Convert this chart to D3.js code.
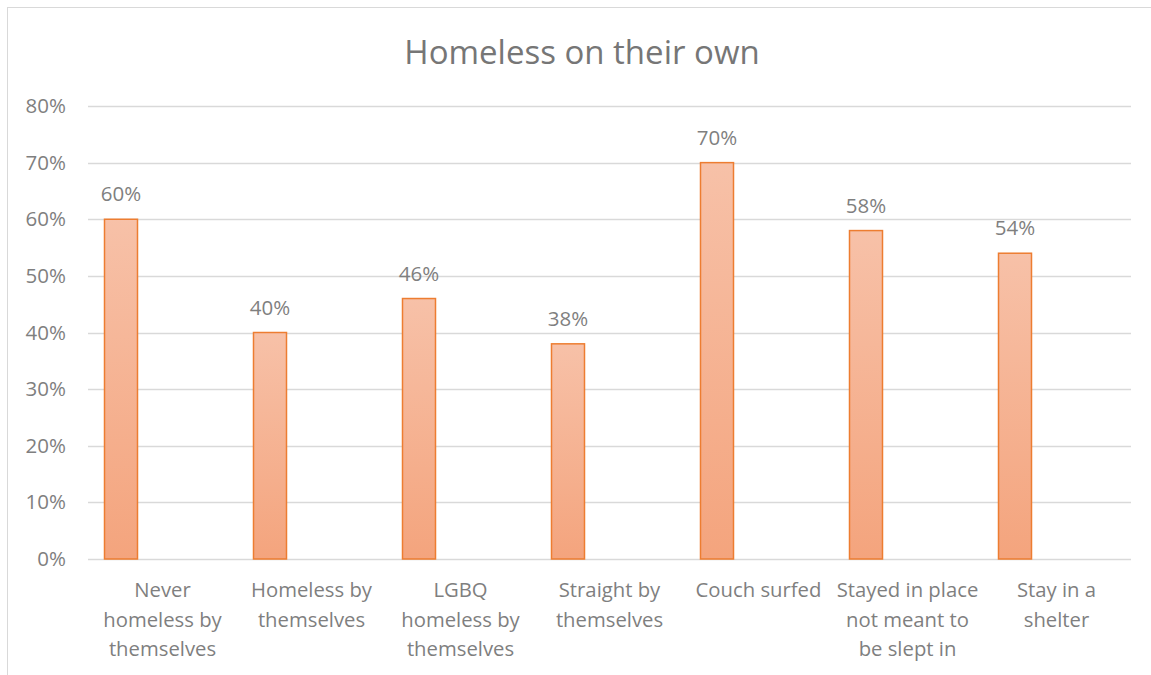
<!DOCTYPE html>
<html><head><meta charset="utf-8">
<script src="https://cdn.jsdelivr.net/npm/d3@7"></script>
<style>body{margin:0;background:#fff;} svg{display:block;}</style>
</head><body>
<svg id="c" width="1151" height="675"></svg>
<script>
const categories = ["Never homeless by themselves","Homeless by themselves","LGBQ homeless by themselves","Straight by themselves","Couch surfed","Stayed in place not meant to be slept in","Stay in a shelter"];
const categoryLines = [["Never","homeless by","themselves"],["Homeless by","themselves"],["LGBQ","homeless by","themselves"],["Straight by","themselves"],["Couch surfed"],["Stayed in place","not meant to","be slept in"],["Stay in a","shelter"]];
const values = [0.60,0.40,0.46,0.38,0.70,0.58,0.54];
const yTicks = [0,0.1,0.2,0.3,0.4,0.5,0.6,0.7,0.8];
const title = "Homeless on their own";

const svg = d3.select("#c");
const font = "'Open Sans', 'Liberation Sans', sans-serif";
// frame
svg.append("rect").attr("x",7.5).attr("y",7.5).attr("width",1160).attr("height",700)
  .attr("fill","#fff").attr("stroke","#d9d9d9").attr("stroke-width",1);

const x = d3.scaleBand().domain(categories).range([88,1131]).paddingInner(0).paddingOuter(0);
const y = d3.scaleLinear().domain([0,0.8]).range([559,106]);

const defs = svg.append("defs");
const g = defs.append("linearGradient").attr("id","bg").attr("x1",0).attr("y1",0).attr("x2",0).attr("y2",1);
g.append("stop").attr("offset","0%").attr("stop-color","#f7c1a8");
g.append("stop").attr("offset","100%").attr("stop-color","#f4a47d");

// gridlines
svg.append("g").selectAll("line").data(yTicks).join("line")
  .attr("x1",88).attr("x2",1131).attr("y1",d=>Math.round(y(d))+0.5).attr("y2",d=>Math.round(y(d))+0.5)
  .attr("stroke","#d9d9d9").attr("stroke-width",1.3);

// y axis labels
const yAxis = d3.axisLeft(y).tickValues(yTicks).tickFormat(d3.format(".0%")).tickSize(0).tickPadding(0);
const ya = svg.append("g").attr("transform","translate(66,0)").call(yAxis);
ya.select(".domain").remove();
ya.selectAll("text").attr("fill","#7f7f7f").style("font-family",font).style("font-size","20.5px");

// bars
const bw = x.bandwidth();
const barW = 34, off = 16;
svg.append("g").selectAll("rect").data(values).join("rect")
  .attr("x",(d,i)=>x(categories[i])+off+0.5)
  .attr("y",d=>y(d))
  .attr("width",barW-1)
  .attr("height",d=>y(0)-y(d))
  .attr("fill","url(#bg)").attr("stroke","#ed7d31").attr("stroke-width",1.5);

// data labels
svg.append("g").selectAll("text").data(values).join("text")
  .attr("x",(d,i)=>x(categories[i])+off+barW/2)
  .attr("y",d=>y(d)-18)
  .attr("text-anchor","middle")
  .attr("fill","#7f7f7f").style("font-family",font).style("font-size","20.5px")
  .text(d=>d3.format(".0%")(d));

// category labels
const cl = svg.append("g").selectAll("text").data(categories).join("text")
  .attr("text-anchor","middle")
  .attr("fill","#7f7f7f").style("font-family",font).style("font-size","20.3px");
cl.each(function(d,i){
  const t = d3.select(this);
  categoryLines[i].forEach((ln,j)=>{
    t.append("tspan").attr("x",x(d)+bw/2).attr("y",597+j*29.5).text(ln);
  });
});

// title
svg.append("text").attr("x",582).attr("y",64).attr("text-anchor","middle")
  .attr("fill","#767676").style("font-family",font).style("font-size","33px").text(title);
</script>
</body></html>
